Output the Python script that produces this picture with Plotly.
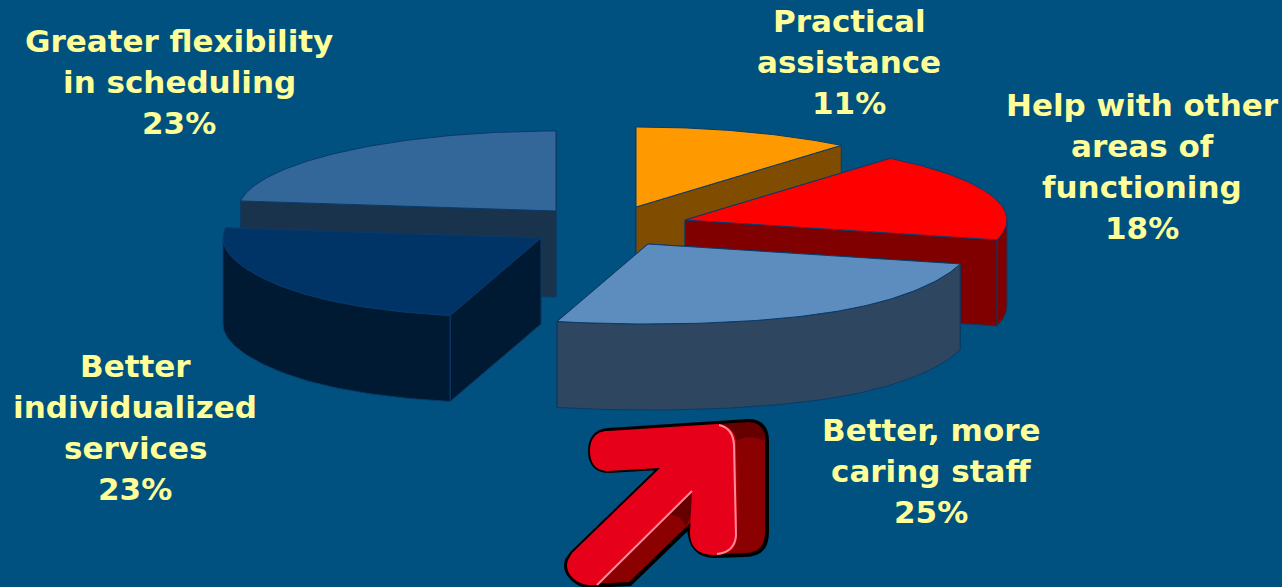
import numpy as np
import plotly.graph_objects as go

# ---- data ----
categories = ["Practical assistance", "Greater flexibility in scheduling",
              "Help with other areas of functioning", "Better individualized services",
              "Better, more caring staff"]
values = [11, 23, 18, 23, 25]
label_lines = [["Practical", "assistance", "11%"],
               ["Greater flexibility", "in scheduling", "23%"],
               ["Help with other", "areas of", "functioning", "18%"],
               ["Better", "individualized", "services", "23%"],
               ["Better, more", "caring staff", "25%"]]
# clockwise order of the slices, starting at 12 o'clock
pie_order = [0, 2, 4, 3, 1]

# ---- style / layout ----
top_colors = ["#FF9900", "#336699", "#FF0000", "#003366", "#5D8CBE"]
side_colors = ["#804D00", "#1A334D", "#800000", "#001A33", "#2E465F"]
apexes = [(636, 207), (556, 211), (685, 220), (541, 238), (648, 244)]
label_pos = [(849, 21), (179, 41), (1142, 105), (135, 366), (931, 430)]
RX_LEFT, RX_RIGHT, RY, DEPTH = 318, 322, 80, 86
LINE_H = 41
BG = "#00517F"
EDGE = "#0A3A68"
TEXT = "#FFFF99"
FONT = "DejaVu Sans"
FONT_SIZE = 31

# start angle of each slice from the values
total = sum(values)
starts = {}
acc = 0.0
for i in pie_order:
    starts[i] = (acc, acc + values[i] / total * 360)
    acc += values[i] / total * 360


def rim(apex, t):
    t = np.asarray(t, dtype=float)
    r = np.radians(t)
    c = np.cos(r)
    s = np.sin(r)
    stretch = 1 + 0.17 * np.where(c < 0, c, 0) ** 4   # perspective near the viewer
    return apex[0] + np.where(s > 0, RX_RIGHT, RX_LEFT) * s * stretch, apex[1] - RY * c


fig = go.Figure()


def face(x, y, color):
    fig.add_trace(go.Scatter(x=list(x), y=list(y), mode="lines", fill="toself", fillcolor=color,
                             line=dict(color=EDGE, width=1), hoverinfo="skip", showlegend=False))


# paint back to front: categories order already follows depth
for i in range(len(values)):
    a0, a1 = starts[i]
    ap = apexes[i]
    ts = np.linspace(a0, a1, 80)
    rx, ry = rim(ap, ts)
    # radial walls, the one nearer the viewer last
    ends = sorted([(rx[0], ry[0]), (rx[-1], ry[-1])], key=lambda p: p[1])
    for px, py in ends:
        face([ap[0], px, px, ap[0], ap[0]],
             [ap[1], py, py + DEPTH, ap[1] + DEPTH, ap[1]], side_colors[i])
    # outer wall, only the part turned to the viewer
    lo, hi = max(a0, 90), min(a1, 270)
    if lo < hi:
        tw = np.linspace(lo, hi, 60)
        wx, wy = rim(ap, tw)
        face(np.r_[wx, wx[::-1], wx[0]], np.r_[wy, wy[::-1] + DEPTH, wy[0]], side_colors[i])
    # top
    face(np.r_[ap[0], rx, ap[0]], np.r_[ap[1], ry, ap[1]], top_colors[i])

# labels
annotations = []
for lines, (cx, cy) in zip(label_lines, label_pos):
    for k, s in enumerate(lines):
        annotations.append(dict(x=cx, y=cy + k * LINE_H, text="<b>" + s + "</b>", showarrow=False,
                                xanchor="center", yanchor="middle",
                                font=dict(family=FONT, size=FONT_SIZE, color=TEXT)))

# arrow (decoration)
silhouette = ("M 608 430 L 748 421 Q 767 421 767 441 L 767 532 Q 767 555 745 555 L 715 556 "
              "Q 690 556 689 527 L 630 584 L 590 586 C 578 586 562 574 567 560 L 572 553 "
              "L 660 468 L 608 471 C 595 471 590 462 590 451 C 590 440 595 431 608 430 Z")
front = ("M 608 431 L 717 424 Q 736 426 736 445 L 737 535 Q 737 555 715 555 Q 690 555 690 533 "
         "L 692 491 L 597 585 L 590 585 C 578 585 563 574 568 560 L 572 553 "
         "L 660 468 L 608 471 C 595 471 590 462 590 451 C 590 440 595 431 608 431 Z")
shapes = [
    dict(type="path", path=silhouette, fillcolor="#8B0000", line=dict(color="black", width=4)),
    dict(type="path", path="M 719 424 L 748 422 Q 765 422 766 442 Q 750 433 736 441 Z",
         fillcolor="#660000", line=dict(width=0)),
    dict(type="path", path="M 692 491 L 692 513 L 686 526 Q 680 514 670 515 Z",
         fillcolor="#660000", line=dict(width=0)),
    dict(type="path", path=front, fillcolor="#E60019", line=dict(width=0)),
    dict(type="path", path="M 719 425 Q 733 428 734 445 L 736 535 Q 735 552 717 554",
         line=dict(color="#FF8A99", width=2)),
    dict(type="path", path="M 692 491 L 597 585", line=dict(color="#FF8A99", width=2)),
]

fig.update_layout(
    width=1282, height=587, margin=dict(l=0, r=0, t=0, b=0),
    paper_bgcolor=BG, plot_bgcolor=BG, showlegend=False,
    xaxis=dict(range=[0, 1282], visible=False, fixedrange=True),
    yaxis=dict(range=[587, 0], visible=False, fixedrange=True),
    annotations=annotations, shapes=shapes,
)
fig.write_html("out.html", config=dict(displayModeBar=False),
               post_script="document.body.style.margin='0';document.body.style.overflow='hidden';"
                           "document.body.style.background='" + BG + "';")
